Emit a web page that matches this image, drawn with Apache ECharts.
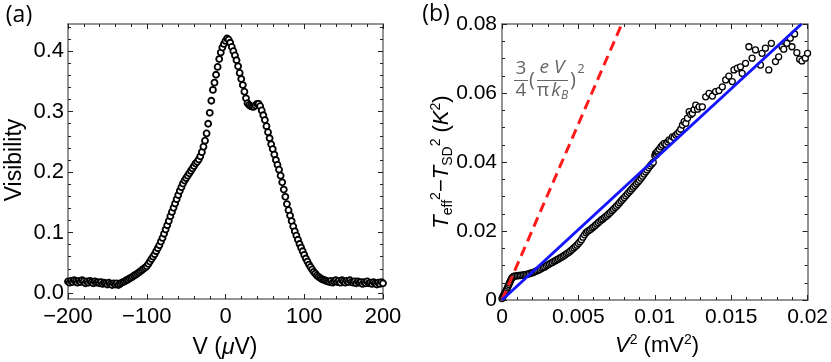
<!DOCTYPE html>
<html><head><meta charset="utf-8">
<script src="https://cdn.jsdelivr.net/npm/echarts@6/dist/echarts.min.js"></script>
<style>html,body{margin:0;padding:0;background:#fff}#c{width:831px;height:362px}</style>
</head><body><div id="c"></div>
<script>
// ---- Panel (a): visibility vs bias V (μV)
const aV = [
-200,-198,-196,-194,-192,-190,-188,-186,-184,-182,-180,-178,-176,-174,-172,-170,-168,-166,-164,-162,
-160,-158,-156,-154,-152,-150,-148,-146,-144,-142,-140,-138,-136,-134,-132,-130,-128,-126,-124,-122,
-120,-118,-116,-114,-112,-110,-108,-106,-104,-102,-100,-98,-96,-94,-92,-90,-88,-86,-84,-82,
-80,-78,-76,-74,-72,-70,-68,-66,-64,-62,-60,-58,-56,-54,-52,-50,-48,-46,-44,-42,
-40,-38,-36,-34,-32,-30,-28,-26,-24,-22,-20,-18,-16,-14,-12,-10,-8,-6,-4,-2,
0,2,4,6,8,10,12,14,16,18,20,22,24,26,28,30,32,34,36,38,
40,42,44,46,48,50,52,54,56,58,60,62,64,66,68,70,72,74,76,78,
80,82,84,86,88,90,92,94,96,98,100,102,104,106,108,110,112,114,116,118,
120,122,124,126,128,130,132,134,136,138,140,142,144,146,148,150,152,154,156,158,
160,162,164,166,168,170,172,174,176,178,180,182,184,186,188,190,192,194,196,198,200];
const aVis = [
0.019,0.017,0.020,0.018,0.021,0.019,0.017,0.020,0.018,0.021,
0.019,0.016,0.019,0.017,0.020,0.018,0.016,0.019,0.017,0.018,
0.016,0.018,0.015,0.017,0.016,0.014,0.017,0.015,0.013,0.016,
0.014,0.016,0.013,0.015,0.017,0.018,
0.019,0.021,0.022,0.024,0.025,0.027,0.029,0.030,0.032,0.034,0.036,0.038,0.040,0.042,0.044,
0.048,0.052,0.056,0.060,0.064,0.069,0.074,0.079,0.085,0.091,0.098,0.105,0.112,0.119,0.127,0.134,0.141,0.148,0.155,0.162,0.169,0.175,0.181,0.186,0.190,
0.194,0.198,0.202,0.206,0.210,0.214,0.217,0.221,0.226,0.233,0.242,0.252,0.264,0.280,0.298,0.318,0.336,0.348,0.361,0.374,0.387,0.398,0.406,0.412,0.417,
0.421,0.419,0.414,0.407,0.400,0.393,0.385,0.375,0.364,0.354,0.344,0.333,0.322,0.314,0.311,0.309,0.308,0.308,0.310,0.313,0.313,0.309,0.302,0.294,0.286,
0.276,0.266,0.256,0.246,0.238,0.229,0.220,0.212,0.204,0.194,0.183,0.171,0.159,0.147,0.137,0.128,0.119,0.110,0.102,0.095,
0.088,0.081,0.075,0.069,0.063,0.057,0.052,0.047,0.043,0.039,0.035,0.032,0.029,0.027,0.025,0.023,0.022,0.021,0.020,0.019,
0.018,0.020,0.017,0.019,0.021,0.018,0.020,0.017,0.021,0.019,0.017,0.020,0.018,0.021,0.018,0.017,0.019,0.016,0.019,0.017,
0.018,0.015,0.018,0.016,0.019,0.016,0.017,0.015,0.018,0.016,0.014,0.017,0.015,0.018,0.016];
const aYMajor = [0, 0.1, 0.2, 0.3, 0.4];
const aYMinor = [0.02,0.04,0.06,0.08,0.12,0.14,0.16,0.18,0.22,0.24,0.26,0.28,0.32,0.34,0.36,0.38,0.42,0.44];

// ---- Panel (b): Teff^2 - TSD^2 (K^2) vs V^2 (mV^2)
const bV2 = [
0,0.00005,0.0001,0.00015,0.0002,0.00025,0.0003,0.00035,0.0004,0.00045,0.0005,0.00055,0.0006,0.00065,0.0007,0.00075,0.0008,0.0009,
0.001,0.0011,0.0012,0.0013,0.0014,0.0015,0.0016,0.0017,0.0018,0.0019,
0.002,0.0021,0.0022,0.0023,0.0024,0.0025,0.0026,0.0027,0.0028,0.0029,
0.003,0.0031,0.0032,0.0033,0.0034,0.0035,0.0036,0.0037,0.0038,0.0039,
0.004,0.0041,0.0042,0.0043,0.0044,0.0045,0.0046,0.0047,0.0048,0.0049,
0.005,0.0051,0.0052,0.0053,0.0054,0.0055,0.0056,0.0057,0.0058,0.0059,
0.006,0.0061,0.0062,0.0063,0.0064,0.0065,0.0066,0.0067,0.0068,0.0069,
0.007,0.0071,0.0072,0.0073,0.0074,0.0075,0.0076,0.0077,0.0078,0.0079,
0.008,0.0081,0.0082,0.0083,0.0084,0.0085,0.0086,0.0087,0.0088,0.0089,
0.009,0.0091,0.0092,0.0093,0.0094,0.0095,0.0096,0.0097,0.0098,0.0099,
0.01,0.01005,0.0101,0.01015,0.0102,0.0103,0.0104,0.0105,0.01062,0.01073,0.01085,0.01094,0.01105,0.01116,0.01127,0.01138,0.01149,0.0116,0.0117,
0.01181,0.01192,0.01203,0.01214,0.01225,0.01235,0.01246,0.01257,0.01268,0.0128,0.0129,0.01311,0.01333,0.01355,0.01377,0.01398,0.0142,0.01442,
0.01464,0.01485,0.01507,0.01518,0.0154,0.01561,0.01572,0.01594,0.01616,0.01637,0.01659,0.01692,0.01702,0.01724,0.01746,0.01763,0.0179,
0.01811,0.01833,0.01844,0.01865,0.01887,0.01898,0.01915,0.0193,0.01948,0.01963,0.01985,0.02];
const bT2 = [
0.0004,0.0009,0.0013,0.0017,0.0021,0.0026,0.003,0.0035,0.004,0.0045,0.005,0.0055,0.006,0.0063,0.0066,0.0068,0.0069,0.007,
0.007,0.0071,0.0071,0.0072,0.0073,0.0073,0.0074,0.0075,0.0077,0.0078,
0.0079,0.0081,0.0083,0.0085,0.0087,0.0089,0.0092,0.0094,0.0096,0.0099,
0.0102,0.0104,0.0107,0.0109,0.0112,0.0114,0.0117,0.0119,0.0122,0.0124,
0.0127,0.013,0.0133,0.0136,0.0139,0.0143,0.0147,0.0151,0.0155,0.0159,
0.0164,0.0169,0.0175,0.0182,0.0189,0.0195,0.0199,0.0202,0.0205,0.0209,
0.0212,0.0216,0.022,0.0224,0.0228,0.0232,0.0235,0.0239,0.0242,0.0246,
0.025,0.0254,0.0259,0.0263,0.0268,0.0272,0.0277,0.0282,0.0287,0.0292,
0.0297,0.0302,0.0307,0.0312,0.0317,0.0322,0.0327,0.0332,0.0337,0.0342,
0.0347,0.0353,0.0359,0.0365,0.0371,0.0377,0.0383,0.0389,0.0394,0.0399,
0.0418,0.0425,0.0422,0.0428,0.0432,0.0437,0.0444,0.0449,0.0454,0.0452,0.0458,0.0464,0.0462,0.0473,0.0471,0.0478,0.0482,0.0488,0.0495,
0.0507,0.0517,0.0512,0.0527,0.0546,0.0538,0.0541,0.0552,0.0565,0.0553,0.056,0.056,0.0589,0.0599,0.0591,0.0604,0.0607,0.0618,
0.0638,0.0649,0.0633,0.0667,0.0672,0.0676,0.0657,0.0686,0.0734,0.0701,0.0725,0.0681,0.0715,0.073,0.0667,0.0744,0.0691,
0.0705,0.0734,0.0727,0.0744,0.0759,0.0734,0.0771,0.0717,0.0698,0.0693,0.0701,0.0715];
const blueFit = [[0, 0], [0.0196, 0.08]];
const redTheory = [[0, 0], [0.00784, 0.08]];

const FF = '"Liberation Sans", Arial, sans-serif';
const frame = {show: true, onZero: false, lineStyle: {color: '#707070', width: 1.5}};
const noLine = {show: false, onZero: false};
const tickMaj = (extra) => Object.assign({show: true, inside: true, length: 5, lineStyle: {color: '#222', width: 1}}, extra || {});
const tickMin = {show: true, length: 3, lineStyle: {color: '#222', width: 1}};
const noSplit = {splitLine: {show: false}, minorSplitLine: {show: false}};
const minus = v => v < 0 ? '\u2212' + (-v) : String(v);
const C = {align: 'center', verticalAlign: 'middle', textAlign: 'center', textVerticalAlign: 'middle'};

const chart = echarts.init(document.getElementById('c'), null, {renderer: 'canvas'});
const option = {
  animation: false,
  backgroundColor: '#fff',
  grid: [
    {left: 68, top: 24, width: 315, height: 275},
    {left: 502, top: 24, width: 307, height: 276}
  ],
  xAxis: [
    Object.assign({gridIndex: 0, type: 'value', min: -200, max: 200, interval: 100, position: 'bottom',
      axisLine: frame, axisTick: tickMaj(), minorTick: Object.assign({splitNumber: 5}, tickMin),
      axisLabel: {formatter: minus, fontSize: 22, fontFamily: FF, color: '#000', margin: 7}}, noSplit),
    Object.assign({gridIndex: 0, type: 'value', min: -200, max: 200, interval: 100, position: 'top',
      axisLine: frame, axisTick: tickMaj(), minorTick: Object.assign({splitNumber: 5}, tickMin),
      axisLabel: {show: false}}, noSplit),
    Object.assign({gridIndex: 1, type: 'value', min: 0, max: 0.02, interval: 0.005, position: 'bottom',
      axisLine: frame, axisTick: tickMaj(), minorTick: Object.assign({splitNumber: 5}, tickMin),
      axisLabel: {fontSize: 21, fontFamily: FF, color: '#000', margin: 7}}, noSplit),
    Object.assign({gridIndex: 1, type: 'value', min: 0, max: 0.02, interval: 0.005, position: 'top',
      axisLine: frame, axisTick: tickMaj(), minorTick: Object.assign({splitNumber: 5}, tickMin),
      axisLabel: {show: false}}, noSplit)
  ],
  yAxis: [
    Object.assign({gridIndex: 0, type: 'value', min: -0.01, max: 0.445, position: 'left',
      axisLine: frame, axisTick: tickMaj({customValues: aYMajor}),
      axisLabel: {customValues: aYMajor, formatter: v => v.toFixed(1), fontSize: 22, fontFamily: FF, color: '#000', margin: 4}}, noSplit),
    Object.assign({gridIndex: 0, type: 'value', min: -0.01, max: 0.445, position: 'left',
      axisLine: noLine, axisTick: {show: true, inside: true, length: 3, customValues: aYMinor, lineStyle: {color: '#222', width: 1}},
      axisLabel: {show: false}}, noSplit),
    Object.assign({gridIndex: 0, type: 'value', min: -0.01, max: 0.445, position: 'right',
      axisLine: frame, axisTick: tickMaj({customValues: aYMajor}), axisLabel: {show: false}}, noSplit),
    Object.assign({gridIndex: 0, type: 'value', min: -0.01, max: 0.445, position: 'right',
      axisLine: noLine, axisTick: {show: true, inside: true, length: 3, customValues: aYMinor, lineStyle: {color: '#222', width: 1}},
      axisLabel: {show: false}}, noSplit),
    Object.assign({gridIndex: 1, type: 'value', min: 0, max: 0.08, interval: 0.02, position: 'left',
      axisLine: frame, axisTick: tickMaj(), minorTick: Object.assign({splitNumber: 4}, tickMin),
      axisLabel: {fontSize: 21, fontFamily: FF, color: '#000', margin: 5}}, noSplit),
    Object.assign({gridIndex: 1, type: 'value', min: 0, max: 0.08, interval: 0.02, position: 'right',
      axisLine: frame, axisTick: tickMaj(), minorTick: Object.assign({splitNumber: 4}, tickMin),
      axisLabel: {show: false}}, noSplit)
  ],
  series: [
    {type: 'scatter', xAxisIndex: 0, yAxisIndex: 0, symbol: 'circle', symbolSize: 6,
      itemStyle: {color: '#fff', borderColor: '#000', borderWidth: 1.8, opacity: 1},
      data: aV.map((v, i) => [v, aVis[i]]), z: 3},
    {type: 'scatter', xAxisIndex: 2, yAxisIndex: 4, symbol: 'circle', symbolSize: 6,
      itemStyle: {color: '#fff', borderColor: '#000', borderWidth: 1.3, opacity: 1},
      data: bV2.map((v, i) => [v, bT2[i]]), z: 3},
    {type: 'line', xAxisIndex: 2, yAxisIndex: 4, showSymbol: false, data: redTheory, z: 5,
      lineStyle: {color: '#ff1a1a', width: 3, type: [10, 6]}},
    {type: 'line', xAxisIndex: 2, yAxisIndex: 4, showSymbol: false, data: blueFit, z: 5,
      lineStyle: {color: '#1414ff', width: 3}}
  ],
  graphic: [
    {type: 'text', x: 19, y: 15, style: Object.assign({text: '(a)', font: '23px "Open Sans"', fill: '#000'}, C)},
    {type: 'text', x: 436, y: 14, style: Object.assign({text: '(b)', font: '23px "Open Sans"', fill: '#000'}, C)},
    {type: 'text', x: 15, y: 160, rotation: Math.PI / 2,
      style: Object.assign({text: 'Visibility', font: '23px ' + FF, fill: '#000'}, C)},
    {type: 'text', x: 225, y: 348,
      style: Object.assign({text: 'V ({i|\u03bc}V)', font: '23px ' + FF, fill: '#000',
        rich: {i: {fontStyle: 'italic', fontSize: 23, fontFamily: FF}}}, C)},
    {type: 'text', x: 657, y: 346,
      style: Object.assign({text: '{i|V}{s|2}{n| (mV}{s|2}{n|)}', fill: '#000',
        rich: {
          i: {fontStyle: 'italic', fontSize: 22, fontFamily: FF, lineHeight: 26},
          n: {fontSize: 22, fontFamily: FF, lineHeight: 26},
          s: {fontSize: 14, fontFamily: FF, lineHeight: 16, verticalAlign: 'top'}
        }}, C)},
    {type: 'text', x: 442, y: 162, rotation: Math.PI / 2,
      style: Object.assign({text: '{i|T}{b|eff}{s|2}{n|\u2212}{i|T}{b|SD}{s|2}{n| (}{i|K}{s|2}{n|)}', fill: '#000',
        rich: {
          i: {fontStyle: 'italic', fontSize: 22, fontFamily: FF, lineHeight: 26},
          n: {fontSize: 22, fontFamily: FF, lineHeight: 26},
          s: {fontSize: 14, fontFamily: FF, lineHeight: 16, verticalAlign: 'top'},
          b: {fontSize: 14, fontFamily: FF, lineHeight: 14, verticalAlign: 'bottom'}
        }}, C)},
    // annotation 3/4 (eV / (pi k_B))^2
    {type: 'group', children: [
      {type: 'text', x: 521, y: 69, style: Object.assign({text: '3', font: '19px "Open Sans"', fill: '#666'}, C)},
      {type: 'line', shape: {x1: 514, y1: 80.5, x2: 528, y2: 80.5}, style: {stroke: '#666', lineWidth: 1}},
      {type: 'text', x: 521, y: 91, style: Object.assign({text: '4', font: '19px "Open Sans"', fill: '#666'}, C)},
      {type: 'text', x: 532, y: 80, style: Object.assign({text: '(', font: '20px "Open Sans"', fill: '#666'}, C)},
      {type: 'text', x: 552, y: 68, style: Object.assign({text: 'e V', font: 'italic 19px "Open Sans"', fill: '#666'}, C)},
      {type: 'line', shape: {x1: 537, y1: 80.5, x2: 568, y2: 80.5}, style: {stroke: '#666', lineWidth: 1}},
      {type: 'text', x: 543, y: 91, style: Object.assign({text: '\u03c0', font: '19px "Open Sans"', fill: '#666'}, C)},
      {type: 'text', x: 556, y: 91, style: Object.assign({text: 'k', font: 'italic 19px "Open Sans"', fill: '#666'}, C)},
      {type: 'text', x: 564.5, y: 96, style: Object.assign({text: 'B', font: 'italic 12px "Open Sans"', fill: '#666'}, C)},
      {type: 'text', x: 573, y: 80, style: Object.assign({text: ')', font: '20px "Open Sans"', fill: '#666'}, C)},
      {type: 'text', x: 581, y: 69, style: Object.assign({text: '2', font: '13px "Open Sans"', fill: '#666'}, C)}
    ]}
  ]
};
chart.setOption(option);
</script>
</body></html>
